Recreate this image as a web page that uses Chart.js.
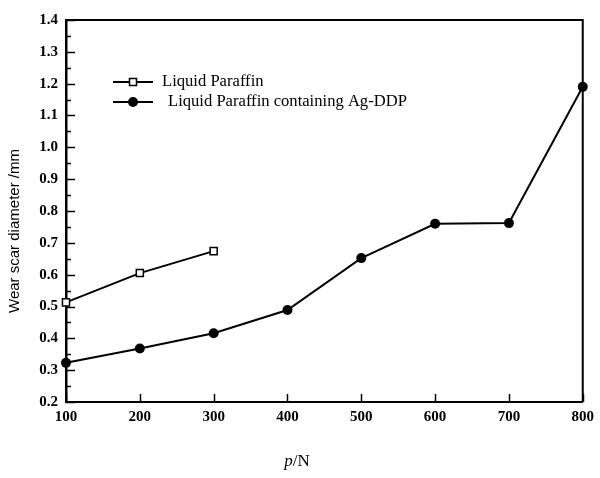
<!DOCTYPE html>
<html>
<head>
<meta charset="utf-8">
<script src="https://cdn.jsdelivr.net/npm/chart.js@4.4.1/dist/chart.umd.min.js"></script>
<style>
  html, body { margin: 0; padding: 0; background: #fff; }
  #wrap { width: 600px; height: 478px; position: relative; }
</style>
</head>
<body>
<div id="wrap"><canvas id="c" width="600" height="478"></canvas></div>
<script>
// ---- data ----
const loads = [100, 200, 300, 400, 500, 600, 700, 800];
const paraffinLoads = [100, 200, 300];
const paraffinValues = [0.513, 0.605, 0.674];
const agddpValues = [0.323, 0.368, 0.416, 0.489, 0.652, 0.760, 0.762, 1.19];
const seriesLabels = ['Liquid Paraffin', 'Liquid Paraffin containing Ag-DDP'];
const xTickValues = [100, 200, 300, 400, 500, 600, 700, 800];
const yMajorStep = 0.1;
const yMinorStep = 0.05;
const xTitleItalic = 'p';
const xTitleRest = '/N';
const yTitle = 'Wear scar diameter /mm';

const SERIF = '"Liberation Serif", "Times New Roman", serif';
const SANS = '"Liberation Sans", Arial, sans-serif';

const decor = {
  id: 'decor',
  afterDraw(chart) {
    const ctx = chart.ctx;
    const a = chart.chartArea;
    const xs = chart.scales.x, ys = chart.scales.y;
    ctx.save();
    ctx.strokeStyle = '#000';
    // top & right frame
    ctx.lineWidth = 2;
    ctx.beginPath();
    ctx.moveTo(a.left, a.top); ctx.lineTo(a.right, a.top); ctx.lineTo(a.right, a.bottom);
    ctx.stroke();
    // inward ticks on y axis (major + minor)
    ctx.lineWidth = 1.5;
    for (let v = ys.min; v <= ys.max + 1e-9; v += yMinorStep) {
      const py = Math.round(ys.getPixelForValue(v)) + 0.5;
      const major = Math.abs(Math.round(v / yMajorStep) * yMajorStep - v) < 1e-6;
      ctx.beginPath();
      ctx.moveTo(a.left, py);
      ctx.lineTo(a.left + (major ? 9 : 5), py);
      ctx.stroke();
    }
    // inward ticks on x axis
    xTickValues.forEach(v => {
      const px = Math.round(xs.getPixelForValue(v)) + 0.5;
      ctx.beginPath();
      ctx.moveTo(px, a.bottom);
      ctx.lineTo(px, a.bottom - 8);
      ctx.stroke();
    });
    // legend
    const ds = chart.data.datasets;
    const rows = [
      { y: 82, textX: 162, style: 'rect', fill: '#fff' },
      { y: 102, textX: 168, style: 'circle', fill: '#000' }
    ];
    rows.forEach((row, i) => {
      ctx.lineWidth = 2;
      ctx.strokeStyle = '#000';
      ctx.beginPath();
      ctx.moveTo(113, row.y); ctx.lineTo(153, row.y);
      ctx.stroke();
      ctx.fillStyle = row.fill;
      ctx.lineWidth = 1.5;
      if (row.style === 'rect') {
        ctx.fillRect(129.5, row.y - 3.5, 7, 7);
        ctx.strokeRect(129.5, row.y - 3.5, 7, 7);
      } else {
        ctx.beginPath(); ctx.arc(133, row.y, 5, 0, Math.PI * 2); ctx.fill();
      }
      ctx.fillStyle = '#000';
      ctx.font = '16.6px ' + SERIF;
      ctx.textBaseline = 'middle';
      ctx.textAlign = 'left';
      ctx.fillText(ds[i].label, row.textX, row.y);
    });
    // y title
    ctx.save();
    ctx.translate(15, 231);
    ctx.rotate(-Math.PI / 2);
    ctx.font = '15px ' + SANS;
    ctx.textAlign = 'center';
    ctx.textBaseline = 'middle';
    ctx.fillStyle = '#000';
    ctx.fillText(yTitle, 0, 0);
    ctx.restore();
    // x title
    ctx.fillStyle = '#000';
    ctx.textBaseline = 'middle';
    ctx.textAlign = 'left';
    ctx.font = 'italic 17px ' + SERIF;
    const w1 = ctx.measureText(xTitleItalic).width;
    ctx.font = '17px ' + SERIF;
    const w2 = ctx.measureText(xTitleRest).width;
    const startX = 297 - (w1 + w2) / 2;
    ctx.font = 'italic 17px ' + SERIF;
    ctx.fillText(xTitleItalic, startX, 462);
    ctx.font = '17px ' + SERIF;
    ctx.fillText(xTitleRest, startX + w1, 462);
    ctx.restore();
  }
};

new Chart(document.getElementById('c'), {
  type: 'line',
  data: {
    datasets: [
      {
        label: seriesLabels[0],
        data: paraffinLoads.map((x, i) => ({ x, y: paraffinValues[i] })),
        borderColor: '#000', borderWidth: 2,
        pointStyle: 'rect', pointRadius: 5, pointBorderWidth: 1.5,
        pointBackgroundColor: '#fff', pointBorderColor: '#000',
        tension: 0
      },
      {
        label: seriesLabels[1],
        data: loads.map((x, i) => ({ x, y: agddpValues[i] })),
        borderColor: '#000', borderWidth: 2,
        pointStyle: 'circle', pointRadius: 5, pointBorderWidth: 0,
        pointBackgroundColor: '#000', pointBorderColor: '#000',
        tension: 0
      }
    ]
  },
  options: {
    responsive: false,
    animation: false,
    clip: false,
    layout: { padding: { left: 0, top: 20, right: 12, bottom: 0 } },
    plugins: { legend: { display: false }, tooltip: { enabled: false }, title: { display: false } },
    scales: {
      x: {
        type: 'linear', min: 100, max: 800,
        afterFit(s) { s.height = 76; },
        afterBuildTicks(s) { s.ticks = xTickValues.map(v => ({ value: v })); },
        grid: { display: false, drawTicks: false },
        border: { display: true, color: '#000', width: 2 },
        ticks: { padding: 6, color: '#000', font: { family: SERIF, size: 15, weight: 'bold' }, maxRotation: 0 }
      },
      y: {
        type: 'linear', min: 0.2, max: 1.4,
        afterFit(s) { s.width = 66; },
        grid: { display: false, drawTicks: false },
        border: { display: true, color: '#000', width: 2.5 },
        ticks: { stepSize: yMajorStep, padding: 8, color: '#000',
          font: { family: SERIF, size: 15, weight: 'bold' },
          callback: v => Number(v).toFixed(1) }
      }
    }
  },
  plugins: [decor]
});
</script>
</body>
</html>
